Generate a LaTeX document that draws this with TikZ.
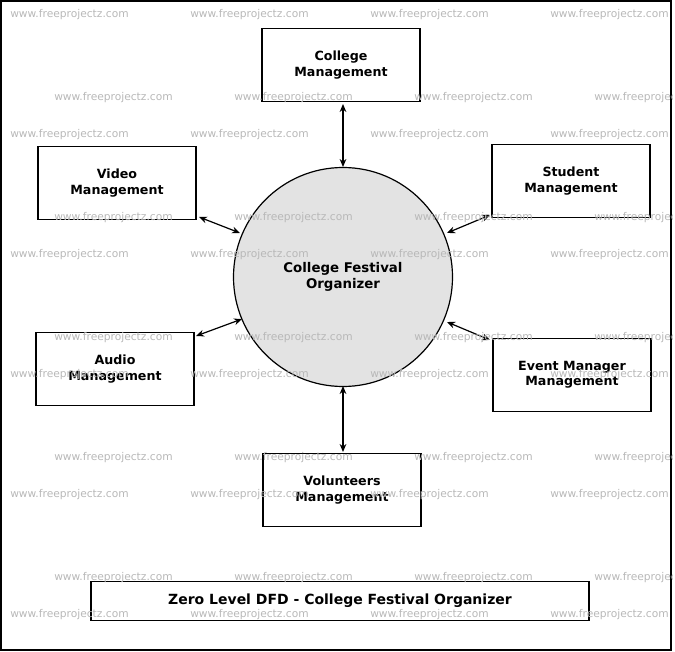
\documentclass[tikz,border=0pt]{standalone}
\usepackage{fontspec}
\setmainfont{DejaVu Sans}
\usetikzlibrary{arrows.meta}
\begin{document}
\begin{tikzpicture}[x=0.75pt,y=-0.75pt,
  box/.style={draw,line width=0.9pt,minimum width=158*0.75pt,minimum height=73*0.75pt,align=center,font=\fontsize{9.5}{11.5}\selectfont\bfseries},
  link/.style={line width=0.9pt,{Stealth[length=6pt,width=5pt]}-{Stealth[length=6pt,width=5pt]}},
  wm/.style={anchor=west,text=black!28,font=\fontsize{8}{9}\selectfont,inner sep=0pt}]
\useasboundingbox (0,0) rectangle (675,652);
\draw[line width=1pt] (1,1) rectangle (671,650);
\node[draw,line width=0.9pt,circle,fill=black!11,minimum size=219*0.75pt,align=center,font=\fontsize{10}{12.5}\selectfont\bfseries] (c) at (343,277) {College Festival\\Organizer};
\node[box] (cm) at (341,65) {College\\Management};
\node[box] (vm) at (117,183) {Video\\Management};
\node[box] (sm) at (571,181) {Student\\Management};
\node[box] (am) at (115,369) {Audio\\Management};
\node[box] (em) at (572,375) {Event Manager\\Management};
\node[box] (vo) at (342,490) {Volunteers\\Management};
\node[draw,line width=0.9pt,minimum width=498*0.75pt,minimum height=39*0.75pt,font=\fontsize{10.5}{12}\selectfont\bfseries] (t) at (340,601) {Zero Level DFD - College Festival Organizer};
\coordinate (a1) at (343,104); \coordinate (b1) at (343,167);
\coordinate (a2) at (199,217); \coordinate (b2) at (240,233);
\coordinate (a3) at (490,215); \coordinate (b3) at (447,233);
\coordinate (a4) at (196,336); \coordinate (b4) at (242,319);
\coordinate (a5) at (490,340); \coordinate (b5) at (447,322);
\coordinate (a6) at (343,452); \coordinate (b6) at (343,386);
\foreach \i in {1,...,6} \draw[link] (a\i) -- (b\i);
\begin{scope}
\clip (0,0) rectangle (672,651);
\foreach \y in {15,135,255,375,495,615}
  \foreach \x in {10,190,370,550} \node[wm] at (\x,\y) {www.freeprojectz.com};
\foreach \y in {98,218,338,458,578}
  \foreach \x in {54,234,414,594} \node[wm] at (\x,\y) {www.freeprojectz.com};
\end{scope}
\end{tikzpicture}
\end{document}
